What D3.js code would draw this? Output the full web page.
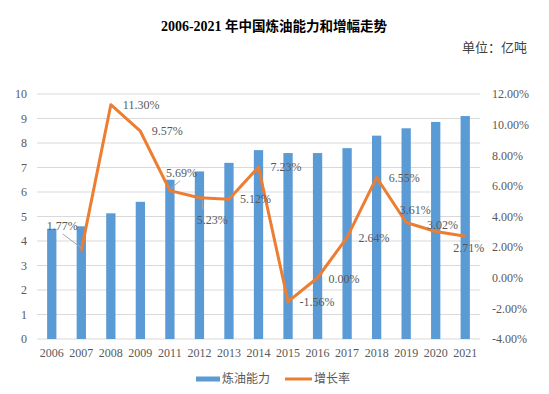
<!DOCTYPE html>
<html>
<head>
<meta charset="utf-8">
<script src="https://cdn.jsdelivr.net/npm/d3@7"></script>
<style>
  body { margin: 0; background: #fff; }
  svg text { font-family: "Liberation Serif", "Noto Sans CJK SC", serif; fill: #595959; }
</style>
</head>
<body>
<svg id="chart"></svg>
<script>
// data
var years = ["2006","2007","2008","2009","2011","2012","2013","2014","2015","2016","2017","2018","2019","2020","2021"];
var capacity = [4.5, 4.6, 5.13, 5.6, 6.5, 6.84, 7.19, 7.71, 7.59, 7.59, 7.79, 8.30, 8.60, 8.86, 9.10];
var growth = [null, 1.77, 11.30, 9.57, 5.69, 5.23, 5.12, 7.23, -1.56, 0.00, 2.64, 6.55, 3.61, 3.02, 2.71];
var leftTicks = [0,1,2,3,4,5,6,7,8,9,10];
var rightTicks = [-4,-2,0,2,4,6,8,10,12];

// where each growth label sits relative to its point [dx, dy, leader]
var labelPos = [null, [-34.6,-24.7,1], [12,0], [11.4,0], [-3.8,-18,1], [-2.6,22,1], [11,-1], [12,0],
  [11.5,0], [11,1.5], [11.5,0], [12,0], [-6.5,-13], [-8.6,-6.5], [-12,12]];

var width = 549, height = 394;
var margin = {top: 94, right: 69, bottom: 55, left: 37};

var svg = d3.select("#chart")
  .attr("width", width)
  .attr("height", height);

var x = d3.scaleBand()
  .domain(years)
  .range([margin.left, width - margin.right])
  .paddingInner(0.685)
  .paddingOuter(0.3425);

var y = d3.scaleLinear().domain([0, 10]).range([height - margin.bottom, margin.top]);
var y2 = d3.scaleLinear().domain([-4, 12]).range([height - margin.bottom, margin.top]);

// gridlines
svg.append("g")
  .selectAll("line")
  .data(leftTicks)
  .enter()
  .append("line")
    .attr("x1", margin.left)
    .attr("x2", width - margin.right)
    .attr("y1", function(d){ return y(d); })
    .attr("y2", function(d){ return y(d); })
    .attr("stroke", "#d9d9d9")
    .attr("stroke-width", 1);

// left axis
var leftAxis = svg.append("g")
  .attr("transform", "translate(" + (margin.left - 10) + ",0)")
  .call(d3.axisLeft(y).tickValues(leftTicks).tickSize(0).tickPadding(0));
leftAxis.select(".domain").remove();
leftAxis.selectAll("text").style("font-size", "12px").attr("fill", "#595959");

// right axis
var rightAxis = svg.append("g")
  .attr("transform", "translate(" + (width - margin.right + 12) + ",0)")
  .call(d3.axisRight(y2).tickValues(rightTicks).tickSize(0).tickPadding(0)
    .tickFormat(function(d){ return d.toFixed(2) + "%"; }));
rightAxis.select(".domain").remove();
rightAxis.selectAll("text").style("font-size", "12px").attr("fill", "#595959");

// bottom axis
var bottomAxis = svg.append("g")
  .attr("transform", "translate(0," + (height - margin.bottom) + ")")
  .call(d3.axisBottom(x).tickSize(0).tickPadding(9));
bottomAxis.select(".domain").remove();
bottomAxis.selectAll("text").style("font-size", "12px").attr("fill", "#595959");

// bars
svg.append("g")
  .selectAll("rect")
  .data(capacity)
  .enter()
  .append("rect")
    .attr("x", function(d, i){ return x(years[i]); })
    .attr("y", function(d){ return y(d); })
    .attr("width", x.bandwidth())
    .attr("height", function(d){ return y(0) - y(d); })
    .attr("fill", "#5b9bd5");

// growth line
var pts = growth.map(function(d, i){ return {year: years[i], v: d, i: i}; })
  .filter(function(d){ return d.v !== null; });

var line = d3.line()
  .x(function(d){ return x(d.year) + x.bandwidth() / 2; })
  .y(function(d){ return y2(d.v); });

svg.append("path")
  .datum(pts)
  .attr("d", line)
  .attr("fill", "none")
  .attr("stroke", "#ed7d31")
  .attr("stroke-width", 3)
  .attr("stroke-linejoin", "round");

// labels
var labels = svg.append("g");
pts.forEach(function(d){
  var px = x(d.year) + x.bandwidth() / 2, py = y2(d.v);
  var p = labelPos[d.i];
  var tx = px + p[0], ty = py + p[1];
  if (p[2]) {
    // leader line from label to point
    var lx = p[1] < 0 ? tx + (p[0] < -20 ? 16 : 14) : tx + 6;
    var ly = p[1] < 0 ? ty + 8 : ty - 10;
    if (d.i === 1) { lx = tx + 16; ly = ty + 8; }
    labels.append("line")
      .attr("x1", lx).attr("y1", ly)
      .attr("x2", px + (p[1] < 0 ? 1 : 3)).attr("y2", py + (p[1] < 0 ? -2 : 3))
      .attr("stroke", "#a6a6a6")
      .attr("stroke-width", 1);
  }
  labels.append("text")
    .attr("x", tx)
    .attr("y", ty)
    .attr("dy", "0.35em")
    .style("font-size", "12px")
    .text(d.v.toFixed(2) + "%");
});

// title
var title = svg.append("text")
  .attr("x", 274)
  .attr("y", 26)
  .attr("dy", "0.35em")
  .attr("text-anchor", "middle")
  .style("font-weight", "bold")
  .style("font-size", "14px")
  .attr("fill", "#000");
title.append("tspan").style("fill", "#000").text("2006-2021 ");
title.append("tspan").style("fill", "#000")
  .style("font-family", "'Noto Sans CJK SC', sans-serif")
  .style("font-size", "13.5px")
  .text("年中国炼油能力和增幅走势");

svg.append("text")
  .attr("x", 527)
  .attr("y", 47)
  .attr("dy", "0.35em")
  .attr("text-anchor", "end")
  .style("font-size", "13px")
  .style("fill", "#404040")
  .text("单位：亿吨");

// legend
var legend = svg.append("g");
legend.append("rect")
  .attr("x", 196).attr("y", 376.5)
  .attr("width", 24).attr("height", 5)
  .attr("fill", "#5b9bd5");
legend.append("text")
  .attr("x", 222).attr("y", 379)
  .attr("dy", "0.35em")
  .style("font-family", "'Noto Sans CJK SC', sans-serif")
  .style("font-size", "12px")
  .text("炼油能力");
legend.append("line")
  .attr("x1", 285).attr("x2", 312)
  .attr("y1", 379).attr("y2", 379)
  .attr("stroke", "#ed7d31")
  .attr("stroke-width", 3);
legend.append("text")
  .attr("x", 314).attr("y", 379)
  .attr("dy", "0.35em")
  .style("font-family", "'Noto Sans CJK SC', sans-serif")
  .style("font-size", "12px")
  .text("增长率");
</script>
</body>
</html>
